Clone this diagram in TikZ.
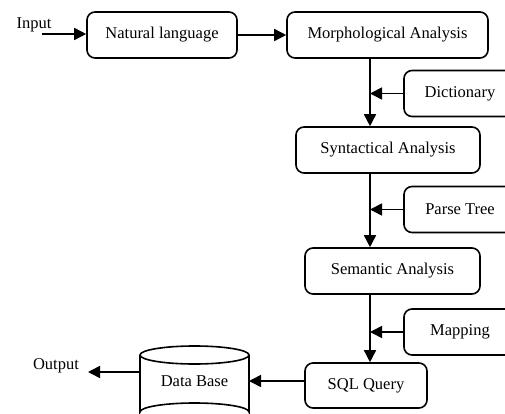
\documentclass[tikz,border=0pt]{standalone}
\usepackage{fontspec}
\setmainfont{Liberation Serif}
\usetikzlibrary{arrows.meta}
\begin{document}
\begin{tikzpicture}[x=1pt,y=-1pt,
  every node/.style={font=\fontsize{16.5}{19}\selectfont},
  box/.style={draw,line width=1.6pt,rounded corners=8pt,minimum height=46pt,inner sep=0pt},
  arr/.style={line width=1.6pt,-{Triangle[length=12pt,width=12pt]}},
  plainline/.style={line width=1.6pt}]
\useasboundingbox (0,0) rectangle (505,414);
\clip (0,0) rectangle (505,414);
\node[box,minimum width=150pt] (nl) at (162,35) {Natural language};
\node[box,minimum width=201pt] (morph) at (387.5,35) {Morphological Analysis};
\node[box,minimum width=112pt] (dict) at (460,93.5) {Dictionary};
\node[box,minimum width=184pt] (synt) at (388,150) {Syntactical Analysis};
\node[box,minimum width=112pt] (parse) at (460,209.5) {Parse Tree};
\node[box,minimum width=175pt] (sem) at (392.5,271) {Semantic Analysis};
\node[box,minimum width=112pt] (map) at (460,332) {Mapping};
\node[box,minimum width=122pt,minimum height=45pt] (sql) at (366,385.5) {SQL Query};
\node (in) at (34,25) {Input};
\node (out) at (56,366) {Output};
\coordinate (inst) at (42,34);
\coordinate (spine) at (370,0);
% database cylinder
\node[minimum width=109pt,minimum height=60pt,inner sep=0pt] (db) at (194.5,381) {Data Base};
\draw[plainline] (194.5,355) ellipse [x radius=54.5pt,y radius=9pt];
\draw[plainline] (140,355) -- (140,412) arc[start angle=180,end angle=0,x radius=54.5pt,y radius=9pt] -- (249,355);
\coordinate (dbw) at (140,372);
\coordinate (dbe) at (249,381);
% connectors
\draw[arr] (inst) -- (nl.west |- inst);
\draw[arr] (nl.east) -- (morph.west);
\draw[arr] (morph.south -| spine) -- (synt.north -| spine);
\draw[arr] (synt.south -| spine) -- (sem.north -| spine);
\draw[arr] (sem.south -| spine) -- (sql.north -| spine);
\draw[arr] (dict.west) -- (dict.west -| spine);
\draw[arr] (parse.west) -- (parse.west -| spine);
\draw[arr] (map.west) -- (map.west -| spine);
\draw[arr] (sql.west |- dbe) -- (dbe);
\draw[arr] (dbw) -- (88,372);
\end{tikzpicture}
\end{document}
